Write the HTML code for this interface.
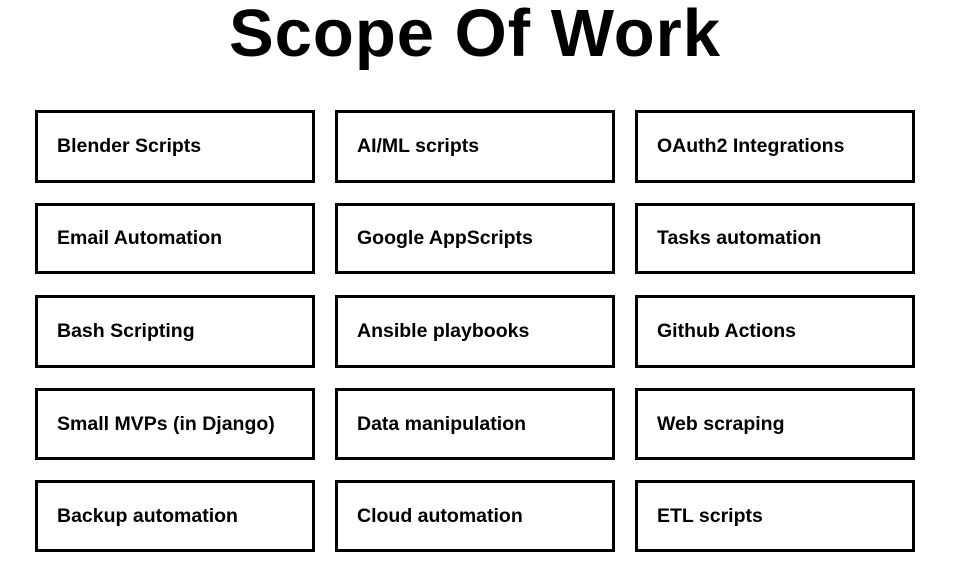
<!DOCTYPE html>
<html><head><meta charset="utf-8"><style>
html,body{margin:0;padding:0;background:#fff;width:961px;height:584px;overflow:hidden;position:relative;font-family:"Liberation Sans",sans-serif;color:#000}
h1{position:absolute;left:0;width:950px;top:-6px;margin:0;text-align:center;font-size:67px;font-weight:bold;letter-spacing:1px;line-height:80px}
.b{position:absolute;box-sizing:border-box;width:280px;border:3px solid #000;display:flex;align-items:center;padding-left:19px;font-size:19.5px;font-weight:bold;letter-spacing:0px}
</style></head><body>
<h1>Scope Of Work</h1>
<div class="b" style="left:35px;top:110px;height:73px">Blender Scripts</div>
<div class="b" style="left:335px;top:110px;height:73px">AI/ML scripts</div>
<div class="b" style="left:635px;top:110px;height:73px">OAuth2 Integrations</div>
<div class="b" style="left:35px;top:203px;height:71px">Email Automation</div>
<div class="b" style="left:335px;top:203px;height:71px">Google AppScripts</div>
<div class="b" style="left:635px;top:203px;height:71px">Tasks automation</div>
<div class="b" style="left:35px;top:295px;height:73px">Bash Scripting</div>
<div class="b" style="left:335px;top:295px;height:73px">Ansible playbooks</div>
<div class="b" style="left:635px;top:295px;height:73px">Github Actions</div>
<div class="b" style="left:35px;top:388px;height:72px">Small MVPs (in Django)</div>
<div class="b" style="left:335px;top:388px;height:72px">Data manipulation</div>
<div class="b" style="left:635px;top:388px;height:72px">Web scraping</div>
<div class="b" style="left:35px;top:480px;height:72px">Backup automation</div>
<div class="b" style="left:335px;top:480px;height:72px">Cloud automation</div>
<div class="b" style="left:635px;top:480px;height:72px">ETL scripts</div>
</body></html>
